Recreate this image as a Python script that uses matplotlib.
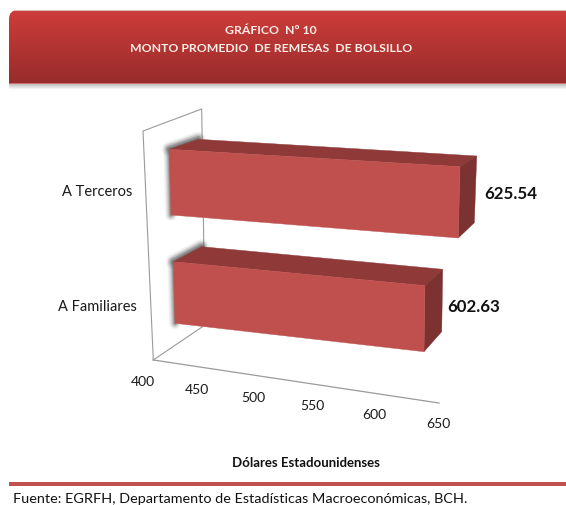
import numpy as np
import matplotlib
matplotlib.use("Agg")
import matplotlib.pyplot as plt
from matplotlib.patches import FancyBboxPatch, Rectangle, Polygon

plt.rcParams['font.family'] = ['Lato', 'DejaVu Sans']

# ---- data ----
categories = ["A Terceros", "A Familiares"]
values = [625.54, 602.63]
ticks = [400, 450, 500, 550, 600, 650]
title_lines = ["GRÁFICO  N° 10", "MONTO PROMEDIO  DE REMESAS  DE BOLSILLO"]
x_title = "Dólares Estadounidenses"
source = "Fuente: EGRFH, Departamento de Estadísticas Macroeconómicas, BCH."

# ---- 3-D look: each bar edge is a scale value -> pixel: (x at 400, y at 400, dx/unit, dy/unit) ----
BASE = 400
EDGES = [
    dict(ft=(169.3, 149.3, 1.2889, 0.0771), fb=(171.0, 215.0, 1.2738, 0.1020),
         bt=(198.3, 139.3, 1.2344, 0.0740), bb=(200.0, 205.0, 1.2162, 0.0785)),
    dict(ft=(173.3, 261.7, 1.2422, 0.1184), fb=(175.0, 323.3, 1.2288, 0.1402),
         bt=(201.7, 246.7, 1.1893, 0.1115), bb=(203.0, 309.0, 1.1780, 0.1120)),
]
WALL = [(153.3, 360), (143, 131), (201.7, 109), (205, 325), (153.3, 360)]
FLOOR_L, FLOOR_R = np.array((153.3, 360.0)), np.array((439.0, 403.0))
LABEL_Y = [192, 307]
VALUE_OFF = [(8.5, 5.0), (5.0, 6.5)]


def at(edge, v):
    x0, y0, sx, sy = edge
    return (x0 + sx * (v - BASE), y0 + sy * (v - BASE))


def floor(v):
    u = (v - 400) / 250
    w = u + 0.11 * u * (u - 1)   # perspective foreshortening of the value axis
    return FLOOR_L + (FLOOR_R - FLOOR_L) * w, u


fig = plt.figure(figsize=(5.66, 5.05), dpi=100)
ax = fig.add_axes([0, 0, 1, 1])
ax.axis('off')

# header banner
grad = np.linspace(0, 1, 100)[:, None, None]
top = np.array([206, 61, 58]) / 255
bot = np.array([152, 44, 44]) / 255
im = ax.imshow(top + (bot - top) * grad, extent=(9, 566, 83, 10), aspect='auto', zorder=2)
clip = FancyBboxPatch((9, 10), 600, 110, boxstyle="round,pad=0,rounding_size=9",
                      transform=ax.transData, fc='none', ec='none')
ax.add_patch(clip)
im.set_clip_path(clip)
ax.set_xlim(0, 566)
ax.set_ylim(505, 0)
for i in range(6):
    ax.add_patch(Rectangle((9, 83 + i), 557, 1, fc=(0, 0, 0, 0.28 * (1 - i / 6)), ec='none', zorder=1))
ax.plot([14, 566], [9.6, 9.6], color='#d8b8b4', lw=0.8, zorder=3)
ax.plot([9, 566], [82.8, 82.8], color='#cf6a66', lw=0.7, zorder=3)
hc = '#fdeee8'
for line, yy in zip(title_lines, [30, 48]):
    ax.text(271, yy, line, ha='center', va='center', color=hc, fontsize=8.8, fontweight='bold', zorder=4)

# frame
g = '#9a9a9a'
ax.plot(*np.array(WALL).T, color=g, lw=0.8, zorder=5)
ax.plot(*np.array([FLOOR_L, FLOOR_R]).T, color=g, lw=0.9, zorder=5)

# bars
for v, e, (dx, dy) in zip(values, EDGES, VALUE_OFF):
    glow = [at(e['fb'], BASE), at(e['ft'], BASE), at(e['bt'], BASE)]
    for w, a in zip([12, 10, 8, 6, 4, 2], [.05, .07, .10, .15, .22, .30]):
        ax.add_patch(Polygon(glow, closed=False, fill=False, ec=(0.3, 0.3, 0.3, a), lw=w * 0.72,
                             joinstyle='round', capstyle='round', zorder=6))
    # darker wedge of the shadow along the top-left diagonal
    diag = [at(e['ft'], BASE), at(e['bt'], BASE)]
    for w, a in zip([15, 11, 7], [.08, .12, .20]):
        ax.plot(*np.array(diag).T, color=(0.3, 0.3, 0.3, a), lw=w * 0.72, solid_capstyle='round', zorder=6)
    ax.add_patch(Polygon([at(e['ft'], BASE), at(e['ft'], v), at(e['bt'], v), at(e['bt'], BASE)],
                         fc='#8f3a39', ec='#8f3a39', lw=0.3, zorder=7))
    ax.add_patch(Polygon([at(e['fb'], v), at(e['ft'], v), at(e['bt'], v), at(e['bb'], v)],
                         fc='#7b3231', ec='#7b3231', lw=0.3, zorder=7))
    ax.add_patch(Polygon([at(e['fb'], BASE), at(e['ft'], BASE), at(e['ft'], v), at(e['fb'], v)],
                         fc='#c0504d', ec='#c0504d', lw=0.3, zorder=8))
    bx, by = at(e['bt'], v)
    cx, cy = at(e['bb'], v)
    ax.text((bx + cx) / 2 + dx, (by + cy) / 2 + dy, f"{v:.2f}", ha='left', va='center',
            fontsize=12.2, fontweight='bold', color='#111111', zorder=9)

# value-axis tick labels
for t in ticks:
    p, u = floor(t)
    ax.text(p[0] - 10 + 9 * u, p[1] + 22 - u, str(t), ha='center', va='center', fontsize=10, color='#1a1a1a')

for lab, yy in zip(categories, LABEL_Y):
    ax.text(97, yy, lab, ha='center', va='center', fontsize=10.5, color='#1a1a1a')

ax.text(305.5, 463, x_title, ha='center', va='center', fontsize=9.5, fontweight='bold', color='#111111')
ax.add_patch(Rectangle((9, 482.3), 557, 3.6, fc='#c0504d', ec='none'))
ax.text(13, 499, source, ha='left', va='center', fontsize=10.4, color='#111111')
fig.savefig("out.png", dpi=100)
